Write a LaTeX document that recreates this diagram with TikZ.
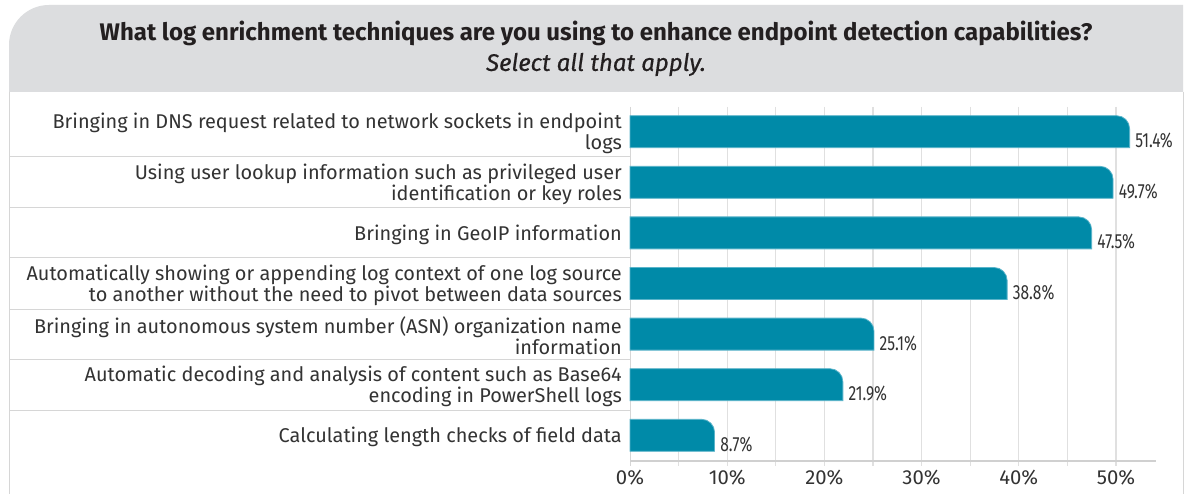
\documentclass[tikz,border=0pt]{standalone}
\usepackage{fontspec}
\setmainfont{Fira Sans}
\newfontfamily\valfont{Fira Sans}[FakeStretch=0.76]
\newfontfamily\subfont{Fira Sans}[FakeBold=0.6]

\definecolor{hdrgray}{HTML}{DCDDDF}
\definecolor{barfill}{HTML}{008AA8}
\definecolor{baredge}{HTML}{5AB4CA}
\definecolor{titletxt}{HTML}{231F20}
\definecolor{labtxt}{HTML}{333333}
\definecolor{gridc}{HTML}{E0E0E0}
\definecolor{framec}{HTML}{D6D6D6}
\definecolor{axisc}{HTML}{D0D0D0}

\tikzset{
  titlestyle/.style={text=titletxt, font=\fontsize{24}{31}\selectfont\bfseries, inner sep=0pt},
  substyle/.style={text=titletxt, font=\fontsize{24}{31}\selectfont\subfont\itshape, inner sep=0pt},
  catlabel/.style={text=labtxt, font=\fontsize{19.9}{21}\selectfont, align=right, anchor=east, inner sep=0pt},
  vallabel/.style={text=labtxt, font=\fontsize{20.5}{21}\selectfont\valfont, anchor=west, inner sep=0pt},
  ticklabel/.style={text=labtxt, font=\fontsize{20.3}{21}\selectfont, inner sep=0pt},
  gridline/.style={draw=gridc, line width=1.2pt},
  sepline/.style={draw=framec, line width=1pt},
  barshape/.style={fill=barfill, draw=baredge, line width=0.8pt},
}

\begin{document}
\begin{tikzpicture}[x=1pt, y=-1pt]
\useasboundingbox (0,0) rectangle (1191,494);
\fill[white] (0,0) rectangle (1191,494);

% header band with rounded top-left corner
\fill[hdrgray] (9,92) -- (9,45) .. controls (9,22.9) and (26.9,5) .. (49,5)
  -- (1183,5) -- (1183,92) -- cycle;
% panel side borders
\draw[sepline] (9,92) -- (9,494);
\draw[sepline] (1183,92) -- (1183,494);

\node[titlestyle] (title) at (596,33.5) {What log enrichment techniques are you using to enhance endpoint detection capabilities?};
\node[substyle] (subtitle) at (596,64.5) {Select all that apply.};

% vertical grid lines every 5%
\foreach \k in {1,...,10} {
  \draw[gridline] (630+48.6*\k,107) -- (630+48.6*\k,466);
}
% row separators and category axis
\foreach \yy in {157,208,258,309,359,410} {
  \draw[sepline] (9,\yy) -- (630,\yy);
}
\draw[sepline] (630,107) -- (630,466);
\draw[draw=axisc, line width=1.2pt] (630,461) -- (1156,461);

% bars, labels and values
\foreach \v/\t [count=\i from 0] in {
  51.4/{Bringing in DNS request related to network sockets in endpoint\\logs},
  49.7/{Using user lookup information such as privileged user\\identification or key roles},
  47.5/{Bringing in GeoIP information},
  38.8/{Automatically showing or appending log context of one log source\\to another without the need to pivot between data sources},
  25.1/{Bringing in autonomous system number (ASN) organization name\\information},
  21.9/{Automatic decoding and analysis of content such as Base64\\encoding in PowerShell logs},
  8.7/{Calculating length checks of field data}} {
  \pgfmathsetmacro{\yt}{115.7+50.6*\i}
  \pgfmathsetmacro{\yb}{\yt+32}
  \pgfmathsetmacro{\yc}{\yt+16}
  \pgfmathsetmacro{\xe}{630+9.72*\v}
  \pgfmathsetmacro{\xa}{\xe-13}
  \pgfmathsetmacro{\xb}{\xe-13+7.2}
  \pgfmathsetmacro{\yr}{\yt+13}
  \pgfmathsetmacro{\ys}{\yt+13-7.2}
  \fill[barshape] (630,\yb) -- (630,\yt) -- (\xa,\yt)
     .. controls (\xb,\yt) and (\xe,\ys) .. (\xe,\yr) -- (\xe,\yb) -- cycle;
  \node[catlabel] (cat\i) at (622,\yc+2) {\t};
  \node[vallabel] (val\i) at (\xe+5.5,\yc+9) {\v\%};
}

% axis tick labels
\foreach \p [count=\j from 0] in {0,10,20,30,40,50} {
  \node[ticklabel] (tick\j) at (630+9.72*\p,478) {\p\%};
}
\end{tikzpicture}
\end{document}
